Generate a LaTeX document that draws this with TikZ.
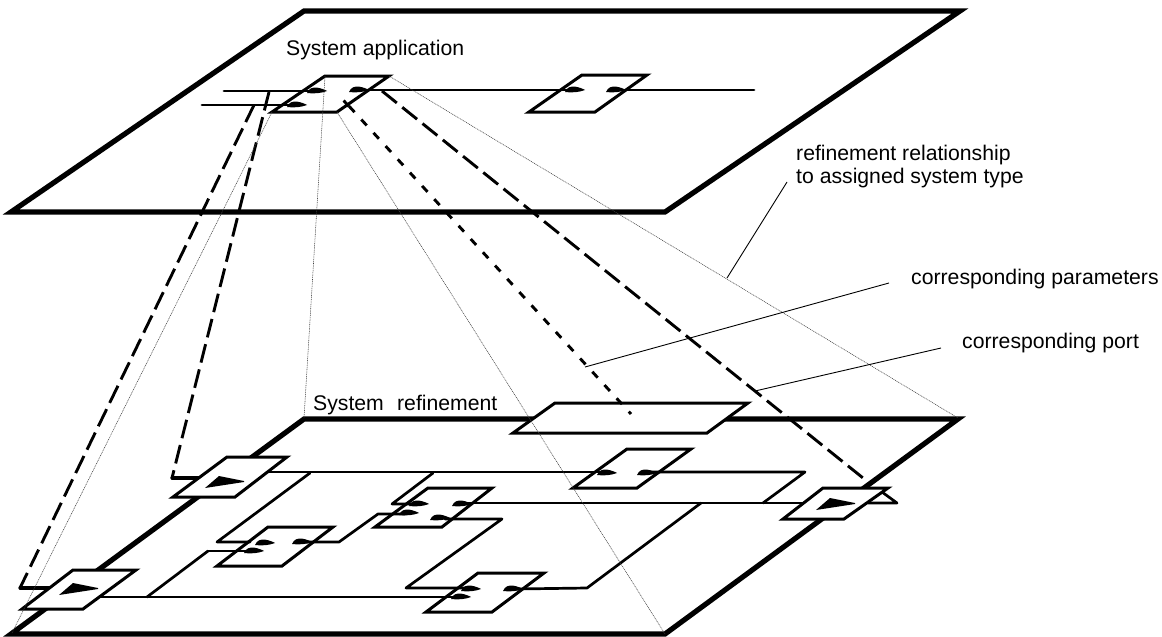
\documentclass[tikz,border=0pt]{standalone}
\usepackage{fontspec}
\setmainfont{Liberation Sans}
\tikzset{
 plane/.style={line width=5.2pt,line join=miter,fill=none},
 box/.style={line width=3pt,fill=white,line join=miter},
 wire/.style={line width=2.7pt,line join=round,line cap=round},
 thinline/.style={line width=0.55pt,dash pattern=on 1pt off 0.8pt,black!75},
 ldash/.style={line width=2.9pt,dash pattern=on 19pt off 7pt},
 sdash/.style={line width=2.9pt,dash pattern=on 8pt off 10pt},
 leader/.style={line width=0.9pt},
 lab/.style={font=\fontsize{21.2}{23}\selectfont,inner sep=0pt,anchor=base west,align=left},
}
\newcommand{\porttip}[1]{\fill[shift={#1}] (-10,2) .. controls (-8,-3) and (-4,-3.8) .. (0,-3.4) .. controls (4,-2.8) and (8,-1.2) .. (10,0) .. controls (5,2) and (-3,3) .. (-10,2) -- cycle;}
\newcommand{\bigtip}[1]{\fill[shift={#1}] (-19,6) -- (-5,-6) -- (20,-1) -- (20,0) -- cycle;}
\begin{document}
\begin{tikzpicture}[x=1pt,y=-1pt]
\useasboundingbox (0,0) rectangle (1162,637);
\draw[plane] (304,11) -- (960,11) -- (665,212) -- (11,212) -- cycle;
\draw[plane] (304,419) -- (958,419) -- (665,634) -- (11,634) -- cycle;
\draw[ldash] (269,92) -- (172,478);
\draw[ldash] (254,105) -- (20,588);
\draw[ldash] (382,91) -- (868,482);
\draw[wire] (882,492) -- (897,503) -- (868,503);
\draw[wire,line width=3.2pt] (172,478) -- (205,478);
\draw[wire,line width=3.2pt] (20,588) -- (50,588);
\draw[box] (555,403) -- (748,403) -- (707,433) -- (513,433) -- cycle;
\draw[sdash] (337,93) -- (631,414);
\draw[box] (227,457) -- (287,457) -- (235,497) -- (173,497) -- cycle;
\draw[box] (73,570) -- (136,570) -- (83,609) -- (22,609) -- cycle;
\draw[box] (823,488) -- (888,488) -- (844,519) -- (783,519) -- cycle;
\draw[box] (627,449) -- (691,449) -- (637,488) -- (573,488) -- cycle;
\draw[box] (268,527) -- (333,527) -- (282,566) -- (217,566) -- cycle;
\draw[box] (428,488) -- (492,488) -- (442,527) -- (375,527) -- cycle;
\draw[box] (478,573) -- (544,573) -- (492,612) -- (426,612) -- cycle;
\draw[wire] (267,472) -- (600,472);
\draw[wire] (650,472) -- (805,472) -- (763,503);
\draw[wire] (468,503) -- (804,503);
\draw[wire] (310,473) -- (217,542) -- (250,542);
\draw[wire] (208,551) -- (250,551);
\draw[wire] (147,597) -- (208,551);
\draw[wire] (100,597) -- (455,597);
\draw[wire] (305,542) -- (339,542) -- (378,514) -- (405,514);
\draw[wire] (433,473) -- (392,504) -- (415,504);
\draw[wire] (445,519) -- (502,519) -- (406,588) -- (468,588);
\draw[wire] (515,589) -- (587,588) -- (701,503);
\draw[box] (325,76) -- (389,76) -- (337,112) -- (272,112) -- cycle;
\draw[box] (582,75) -- (647,75) -- (595,112) -- (529,112) -- cycle;
\draw[sdash,dash phase=8pt] (337,93) -- (352,110);
\draw[wire] (224,91) -- (315,91);
\draw[wire] (202,105) -- (295,105);
\draw[wire] (352,90) -- (570,90);
\draw[wire] (618,90) -- (754,90);
\porttip{(317,91)}
\porttip{(297,105)}
\porttip{(359,90)}
\porttip{(575,90)}
\porttip{(616,90)}
\porttip{(607,473)}
\porttip{(647,473)}
\porttip{(265,543)}
\porttip{(254,551)}
\porttip{(302,542)}
\porttip{(419,504)}
\porttip{(409,513)}
\porttip{(462,504)}
\porttip{(440,518)}
\porttip{(471,589)}
\porttip{(461,597)}
\porttip{(513,589)}
\bigtip{(224,482)}
\bigtip{(78,589)}
\bigtip{(835,504)}
\draw[thinline] (272,112) -- (12,633);
\draw[thinline] (325,76) -- (304,418);
\draw[thinline] (337,112) -- (665,634);
\draw[thinline] (389,76) -- (958,418);
\node[lab] (sa) at (286,55) {System application};
\node[lab] (sr) at (313,410) {System\hspace{0.35em} refinement};
\node[lab] (rr) at (796,183) {refinement relationship\\to assigned system type};
\node[lab] (cpa) at (911,284) {corresponding parameters};
\node[lab] (cpo) at (962,348) {corresponding port};
\coordinate (rrEnd) at (727,278);
\coordinate (cpaEnd) at (585,367);
\coordinate (cpoEnd) at (755,391);
\draw[leader] (787,182) -- (rrEnd);
\draw[leader] (889,283) -- (cpaEnd);
\draw[leader] (941,348) -- (cpoEnd);
\end{tikzpicture}
\end{document}
